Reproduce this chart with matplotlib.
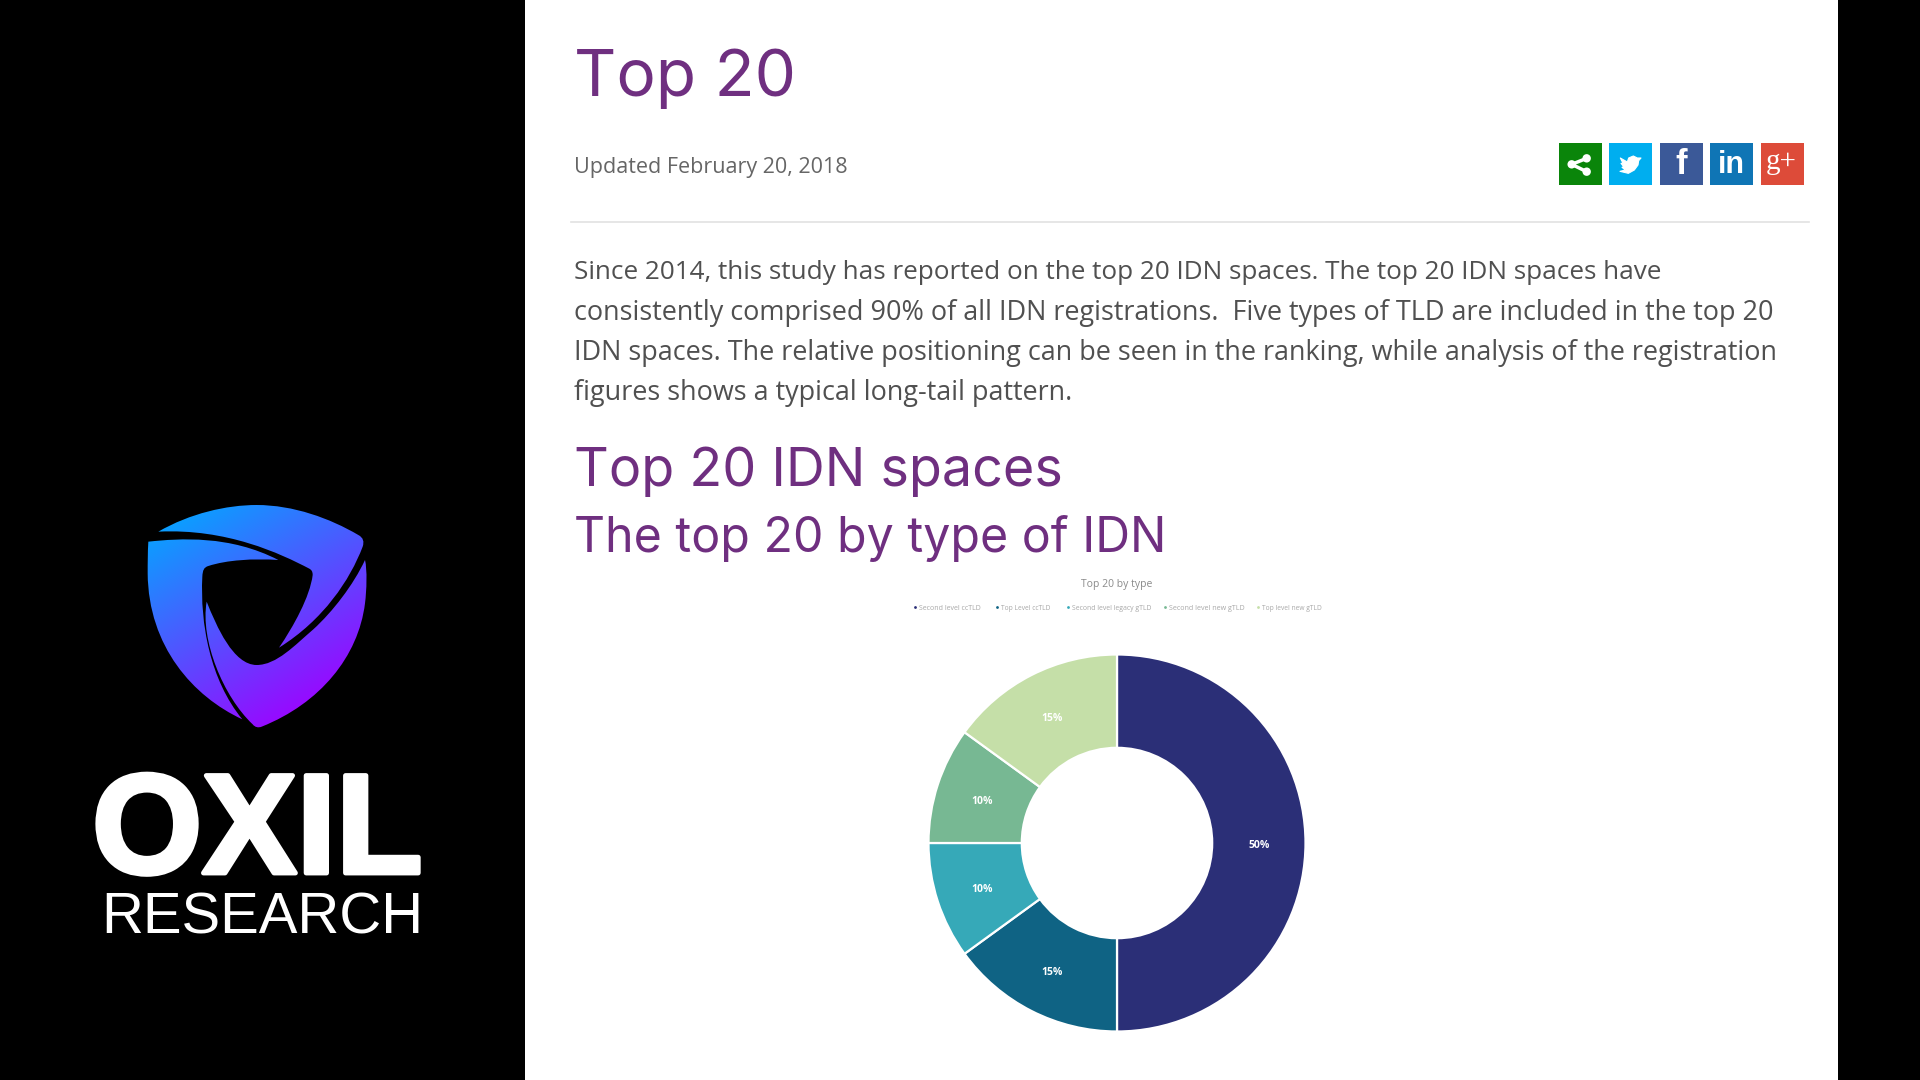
import numpy as np
import matplotlib
matplotlib.use("Agg")
import matplotlib.pyplot as plt
from matplotlib.path import Path
from matplotlib.patches import PathPatch, Rectangle, Circle, Polygon
import matplotlib.patheffects as pe

# ---- chart data ----
type_labels = ["Second level ccTLD", "Top Level ccTLD", "Second level legacy gTLD",
               "Second level new gTLD", "Top level new gTLD"]
type_shares = [50, 15, 10, 10, 15]
type_colors = ["#2b2f77", "#0f6384", "#36a9b8", "#77b893", "#c5dfa8"]
legend_x = [915, 997, 1068, 1165, 1258]
legend_w = [62, 50, 80, 76, 60]

# ---- page text ----
body_lines = [
    "Since 2014, this study has reported on the top 20 IDN spaces. The top 20 IDN spaces have",
    "consistently comprised 90% of all IDN registrations.  Five types of TLD are included in the top 20",
    "IDN spaces. The relative positioning can be seen in the ranking, while analysis of the registration",
    "figures shows a typical long-tail pattern.",
]
body_widths = [1090, 1202, 1206, 498]
body_base = [279, 320, 360, 400]
PURPLE = "#6f2f80"
GREY = "#505050"

fig = plt.figure(figsize=(19.2, 10.8), dpi=100, facecolor="black")
bg = fig.add_axes([0, 0, 1, 1])
bg.set_xlim(0, 1920)
bg.set_ylim(1080, 0)
bg.axis("off")
renderer = fig.canvas.get_renderer()


def fit(s, x, y, width, **kw):
    t = bg.text(x, y, s, va="baseline", ha="left", **kw)
    w = t.get_window_extent(renderer).width
    t.set_fontsize(t.get_fontsize() * width / w)
    return t


# white page panel
bg.add_patch(Rectangle((525, 0), 1313, 1080, fc="white", ec="none"))

# headings / body
fit("Top 20", 574, 96, 222, color=PURPLE, family="Inter", fontsize=50)
fit("Updated February 20, 2018", 574, 173, 273, color="#666666", family="Open Sans", fontsize=16)
bg.plot([571, 1809], [222, 222], color="#e2e2e2", lw=1.2)
for line, w, b in zip(body_lines, body_widths, body_base):
    fit(line, 574, b, w, color=GREY, family="Open Sans", fontsize=19)
fit("Top 20 IDN spaces", 574, 486, 489, color=PURPLE, family="Inter", fontsize=40)
fit("The top 20 by type of IDN", 574, 552, 591, color=PURPLE, family="Inter", fontsize=34)

# social buttons
zx = lambda v: 1540 + v / 3
zy = lambda v: 130 + v / 3
btn_x = [57, 208, 360, 511, 663]
btn_c = ["#0a850a", "#00aeef", "#3b5998", "#0f75b5", "#dd4b39"]
for bx, c in zip(btn_x, btn_c):
    bg.add_patch(Rectangle((zx(bx), zy(38)), 42.5, 42.5, fc=c, ec="none"))
pts = [(95, 103), (140, 85), (140, 125)]
for a in pts[1:]:
    bg.plot([zx(pts[0][0]), zx(a[0])], [zy(pts[0][1]), zy(a[1])], color="white", lw=2.5)
for p in pts:
    bg.add_patch(Circle((zx(p[0]), zy(p[1])), 4.2, fc="white", ec="none"))
bird = [(303, 84), (296, 92), (294, 105), (283, 120), (265, 130), (240, 124), (256, 120),
        (246, 112), (251, 110), (243, 100), (249, 100), (241, 84), (262, 96), (266, 84), (280, 78), (292, 84)]
bg.add_patch(Polygon([(zx(a), zy(b)) for a, b in bird], fc="white", ec="white", lw=0.8, joinstyle="round"))
bg.text(zx(423), zy(104), "f", color="white", family="Liberation Sans", weight="bold", fontsize=25, ha="center", va="center")
bg.text(zx(574), zy(106), "in", color="white", family="Liberation Sans", weight="bold", fontsize=22, ha="center", va="center")
bg.text(zx(724), zy(97), "g+", color="white", family="Liberation Serif", fontsize=21, ha="center", va="center")

# logo
lx = lambda v: 80 + v / 3
ly = lambda v: 490 + v / 3
blades = [
    [(235, 125), (330, 70), (440, 45), (530, 45), (640, 45), (750, 85), (835, 135), (850, 143), (853, 155), (848, 170),
     (810, 270), (730, 390), (597, 473), (640, 410), (690, 320), (698, 255), (698, 245), (695, 240), (688, 236),
     (600, 190), (440, 115), (235, 125)],
    [(205, 155), (300, 145), (450, 135), (595, 210), (520, 205), (440, 210), (385, 228), (372, 232), (368, 240), (367, 260),
     (360, 400), (390, 570), (487, 688), (340, 620), (205, 470), (203, 250), (203, 220), (203, 190), (205, 155)],
    [(380, 335), (410, 410), (460, 525), (530, 525), (590, 525), (645, 465), (700, 418), (758, 365), (820, 285), (855, 210),
     (862, 240), (860, 300), (855, 340),
     (835, 500), (720, 640), (545, 710), (535, 714), (525, 712), (518, 703), (430, 620), (360, 450), (380, 335)],
]
gy, gx = np.mgrid[0:1:200j, 0:1:200j]
g = np.clip(0.45 * gx + 0.75 * gy - 0.05, 0, 1)
c0 = np.array([0, 170, 255]) / 255
c1 = np.array([160, 0, 255]) / 255
grad = c0[None, None, :] * (1 - g[..., None]) + c1[None, None, :] * g[..., None]
for b in blades:
    v = [(lx(p[0]), ly(p[1])) for p in b]
    path = Path(v, [Path.MOVETO] + [Path.CURVE4] * (len(v) - 1))
    im = bg.imshow(grad, extent=(lx(200), lx(865), ly(715), ly(40)), aspect="auto", interpolation="bilinear", zorder=2)
    patch = PathPatch(path, fc="none", ec="none", transform=bg.transData)
    bg.add_patch(patch)
    im.set_clip_path(patch)
bg.set_xlim(0, 1920)
bg.set_ylim(1080, 0)

bg.text(92, 873, "OXIL", color="white", family="Liberation Sans", weight="bold", fontsize=102,
        path_effects=[pe.withStroke(linewidth=3.5, foreground="white")], va="baseline", ha="left")
fit("RESEARCH", 101, 933, 322, color="white", family="Liberation Sans", fontsize=40)

# chart title + legend
bg.text(1117, 587, "Top 20 by type", color="#8a8a8a", family="Open Sans", fontsize=7.5, ha="center", va="baseline")
for x, w, lab, c in zip(legend_x, legend_w, type_labels, type_colors):
    bg.plot([x], [607], "o", ms=2, color=c, mec="none")
    fit(lab, x + 4, 610, w, color="#a8a8a8", family="Open Sans", fontsize=5)

# donut
cx, cy, R = 1117, 843, 188.5
ax = fig.add_axes([(cx - R) / 1920, 1 - (cy + R) / 1080, 2 * R / 1920, 2 * R / 1080], facecolor="none")
wedges, _, autotexts = ax.pie(type_shares, colors=type_colors, startangle=90, counterclock=False, radius=1,
       wedgeprops=dict(width=0.495, edgecolor="white", linewidth=1.6),
       autopct="%d%%", pctdistance=0.755,
       textprops=dict(color="white", fontsize=7.5, family="Open Sans", weight="bold"))
for t in autotexts:
    px, py = t.get_position()
    t.set_position((px, py - 0.012))
ax.set_xlim(-1, 1)
ax.set_ylim(-1, 1)
ax.set_aspect("equal")
ax.axis("off")

fig.savefig("out.png", dpi=100, facecolor="black")
